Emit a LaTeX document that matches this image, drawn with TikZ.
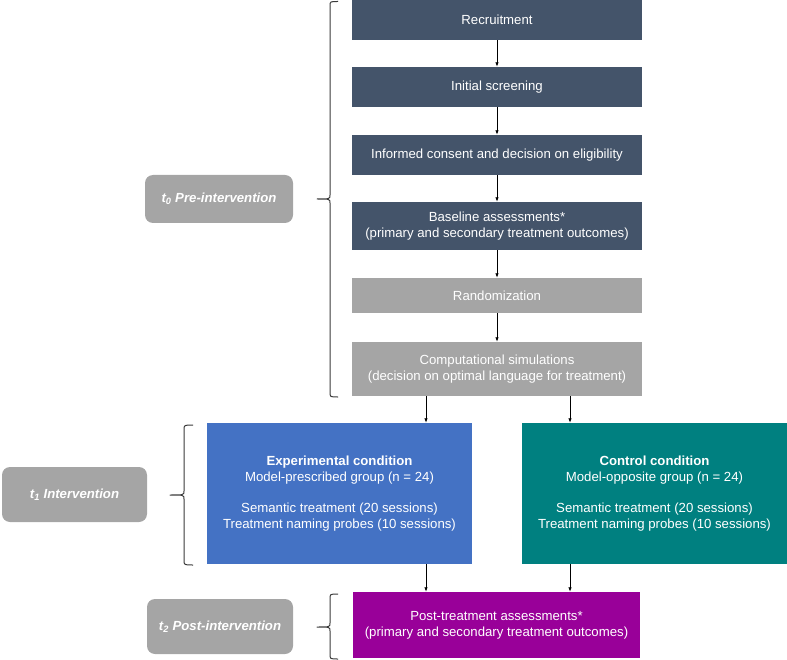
\documentclass[tikz,border=0pt]{standalone}
\usepackage{fontspec}
\setmainfont{Liberation Sans}
\usetikzlibrary{arrows.meta}
\definecolor{slate}{HTML}{44546A}
\definecolor{midgray}{HTML}{A5A5A5}
\definecolor{expblue}{HTML}{4472C4}
\definecolor{ctlteal}{HTML}{008080}
\definecolor{postpurple}{HTML}{990099}
\definecolor{bracecol}{HTML}{3A3A3A}
\tikzset{
  box/.style={draw=none, text=white, align=center, inner sep=2pt,
    font=\fontsize{13.2}{15.8}\selectfont},
  topbox/.style={box, fill=slate, minimum width=290pt},
  graybox/.style={box, fill=midgray, minimum width=290pt},
  bigbox/.style={box, minimum width=265pt, minimum height=141pt},
  phase/.style={box, fill=midgray, rounded corners=8pt,
    font=\fontsize{13.2}{15.8}\selectfont\bfseries\itshape},
  arr/.style={draw=black, line width=0.8pt, -{Latex[length=4.5pt,width=3.5pt]}},
  bracepath/.style={draw=bracecol, line width=1pt, line join=round}
}
\begin{document}
\begin{tikzpicture}[x=1pt,y=-1pt]
\useasboundingbox (0,0) rectangle (787,660);

% main flow
\node[topbox, minimum height=40pt] (rec) at (497,20) {Recruitment};
\node[topbox, minimum height=40pt] (scr) at (497,87) {Initial screening};
\node[topbox, minimum height=40pt] (con) at (497,155) {Informed consent and decision on eligibility};
\node[topbox, minimum height=48pt] (base) at (497,226) {Baseline assessments*\\(primary and secondary treatment outcomes)};
\node[graybox, minimum height=35pt] (rand) at (497,295.5) {Randomization};
\node[graybox, minimum height=54pt] (comp) at (497,369) {Computational simulations\\(decision on optimal language for treatment)};

\node[bigbox, fill=expblue] (exp) at (339.5,493.5) {\textbf{Experimental condition}\\Model-prescribed group (n = 24)\\[15.8pt]Semantic treatment (20 sessions)\\Treatment naming probes (10 sessions)};
\node[bigbox, fill=ctlteal] (ctl) at (654.5,493.5) {\textbf{Control condition}\\Model-opposite group (n = 24)\\[15.8pt]Semantic treatment (20 sessions)\\Treatment naming probes (10 sessions)};

\node[box, fill=postpurple, minimum width=287pt, minimum height=66pt] (post) at (496.5,625) {Post-treatment assessments*\\(primary and secondary treatment outcomes)};

% phase labels
\node[phase, minimum width=148pt, minimum height=48pt] (lab0) at (219,199) {t\textsubscript{0} Pre-intervention};
\node[phase, minimum width=145pt, minimum height=55pt] (lab1) at (74.5,494.5) {t\textsubscript{1} Intervention};
\node[phase, minimum width=146pt, minimum height=55pt] (lab2) at (220,626.5) {t\textsubscript{2} Post-intervention};

% arrows
\draw[arr] (rec) -- (scr);
\draw[arr] (scr) -- (con);
\draw[arr] (con) -- (base);
\draw[arr] (base) -- (rand);
\draw[arr] (rand) -- (comp);
\coordinate (xl) at (426,0);
\coordinate (xr) at (570,0);
\draw[arr] (comp.south -| xl) -- (exp.north -| xl);
\draw[arr] (comp.south -| xr) -- (ctl.north -| xr);
\draw[arr] (exp.south -| xl) -- (post.north -| xl);
\draw[arr] (ctl.south -| xr) -- (post.north -| xr);

% braces
\draw[bracepath] (338,1.5) .. controls (330,1.5) .. (330,6) -- (330,195)
  .. controls (330,199) .. (317,199) .. controls (330,199) .. (330,203)
  -- (330,392) .. controls (330,397) .. (338,397);
\draw[bracepath] (193,425) .. controls (184,425) .. (184,430) -- (184,491)
  .. controls (184,495) .. (170,495) .. controls (184,495) .. (184,499)
  -- (184,560) .. controls (184,565) .. (193,565);
\draw[bracepath] (338,594) .. controls (330,594) .. (330,599) -- (330,623)
  .. controls (330,627) .. (317,627) .. controls (330,627) .. (330,631)
  -- (330,654) .. controls (330,659) .. (338,659);
\end{tikzpicture}
\end{document}
